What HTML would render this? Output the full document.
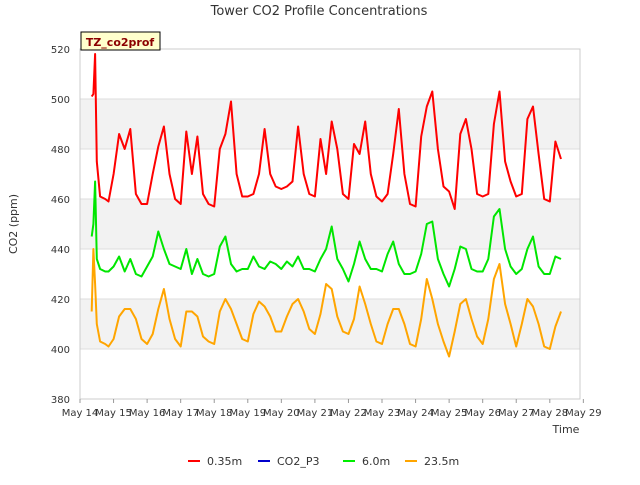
<!DOCTYPE html>
<html><head><meta charset="utf-8"><style>
body{margin:0;background:#fff;font-family:"Liberation Sans","DejaVu Sans",sans-serif}
svg text{font-family:"DejaVu Sans","Liberation Sans",sans-serif}
</style></head><body>
<svg id="c" width="640" height="480" viewBox="0 0 640 480">
<text x="319" y="15" text-anchor="middle" font-size="13" fill="#333">Tower CO2 Profile Concentrations</text>
<text transform="translate(17,224) rotate(-90)" text-anchor="middle" font-size="11" fill="#333">CO2 (ppm)</text>
<text x="566" y="433" text-anchor="middle" font-size="11" fill="#333">Time</text>
<g id="bands"></g><g id="grid"></g><g id="series"></g><g id="ticks"></g>
<g>
<rect x="81" y="32" width="79" height="18" fill="#ffffcc" stroke="#000" stroke-width="1"/>
<text x="120" y="46" text-anchor="middle" font-size="11" font-weight="bold" fill="#8b0000">TZ_co2prof</text></g>
<g>
<g><line x1="188" x2="200" y1="461" y2="461" stroke="#f00" stroke-width="2"/><text x="207" y="465" font-size="11" fill="#333">0.35m</text></g>
<g><line x1="258" x2="270" y1="461" y2="461" stroke="#00c" stroke-width="2"/><text x="277" y="465" font-size="11" fill="#333">CO2_P3</text></g>
<g><line x1="343" x2="355" y1="461" y2="461" stroke="#0e0" stroke-width="2"/><text x="362" y="465" font-size="11" fill="#333">6.0m</text></g>
<g><line x1="405" x2="417" y1="461" y2="461" stroke="orange" stroke-width="2"/><text x="424" y="465" font-size="11" fill="#333">23.5m</text></g>
</g>
</svg>
<script>
const startTimes=[14.35,14.4,14.45,14.5,14.6,14.75,14.85];
const dailyHours=[0,4,8,12,16,20];
const red0=[501,502,518,475,461,460,459];
const redDays=[[470,486,480,488,462,458],[458,470,481,489,470,460],[458,487,470,485,462,458],[457,480,486,499,470,461],[461,462,470,488,470,465],[464,465,467,489,470,462],[461,484,470,491,480,462],[460,482,478,491,470,461],[459,462,478,496,470,458],[457,485,497,503,480,465],[463,456,486,492,480,462],[461,462,490,503,475,467],[461,462,492,497,478,460],[459,483,476]];
const green0=[445,450,467,436,432,431,431];
const greenDays=[[433,437,431,436,430,429],[433,437,447,440,434,433],[432,440,430,436,430,429],[430,441,445,434,431,432],[432,437,433,432,435,434],[432,435,433,437,432,432],[431,436,440,449,436,432],[427,434,443,436,432,432],[431,438,443,434,430,430],[431,438,450,451,436,430],[425,432,441,440,432,431],[431,436,453,456,440,433],[430,432,440,445,433,430],[430,437,436]];
const orange0=[415,440,426,410,403,402,401];
const orangeDays=[[404,413,416,416,412,404],[402,406,416,424,412,404],[401,415,415,413,405,403],[402,415,420,416,410,404],[403,414,419,417,413,407],[407,413,418,420,415,408],[406,414,426,424,413,407],[406,412,425,418,410,403],[402,410,416,416,410,402],[401,412,428,420,410,403],[397,407,418,420,412,405],[402,412,428,434,418,410],[401,410,420,417,410,401],[400,409,415]];
const yTicks=[380,400,420,440,460,480,500,520];
const xTickLabels=["May 14","May 15","May 16","May 17","May 18","May 19","May 20","May 21","May 22","May 23","May 24","May 25","May 26","May 27","May 28","May 29"];
const NS="http://www.w3.org/2000/svg";
const X0=80,X1=580,Y0=49,Y1=399;
const xs=d=>X0+(d-14)*(X1-X0)/14.9;
const ys=v=>Y1-(v-380)*(Y1-Y0)/140;
function mk(tag,attrs,parent){const e=document.createElementNS(NS,tag);for(const k in attrs)e.setAttribute(k,attrs[k]);document.getElementById(parent).appendChild(e);return e;}
for(let i=0;i<yTicks.length-1;i++){if(yTicks[i]%40===0){const r=mk('rect',{x:X0,y:ys(yTicks[i+1]),width:X1-X0,height:ys(yTicks[i])-ys(yTicks[i+1]),fill:'#f2f2f2'},'bands');

}}
yTicks.forEach(v=>{const l=mk('line',{x1:X0,x2:X1,y1:ys(v),y2:ys(v),stroke:'#ddd'},'grid');


const t=mk('text',{x:X0-10,y:ys(v)+4,'text-anchor':'end','font-size':'10',fill:'#333'},'ticks');t.textContent=v;

});
const b=mk('rect',{x:X0,y:Y0,width:X1-X0,height:Y1-Y0,fill:'none',stroke:'#ccc'},'grid');


xTickLabels.forEach((s,i)=>{const x=xs(14+i);
const tk=mk('line',{x1:x,x2:x,y1:Y1,y2:Y1+4,stroke:'#999'},'ticks');


const t=mk('text',{x:x,y:Y1+17,'text-anchor':'middle','font-size':'10',fill:'#333'},'ticks');t.textContent=s;

});
function build(first,days){const pts=first.map((v,i)=>[startTimes[i],v]);days.forEach((arr,di)=>arr.forEach((v,hi)=>pts.push([15+di+dailyHours[hi]/24,v])));return pts;}
function draw(first,days,color,name){const p=build(first,days);
const path=mk('path',{d:p.map((q,i)=>(i?'L':'M')+xs(q[0]).toFixed(1)+','+ys(q[1]).toFixed(1)).join(''),fill:'none',stroke:color,'stroke-width':2,'stroke-linejoin':'round'},'series');

}
draw(orange0,orangeDays,'orange','series-23.5m');
draw(green0,greenDays,'#00e600','series-6.0m');
draw(red0,redDays,'#f00','series-0.35m');
</script>
</body></html>
